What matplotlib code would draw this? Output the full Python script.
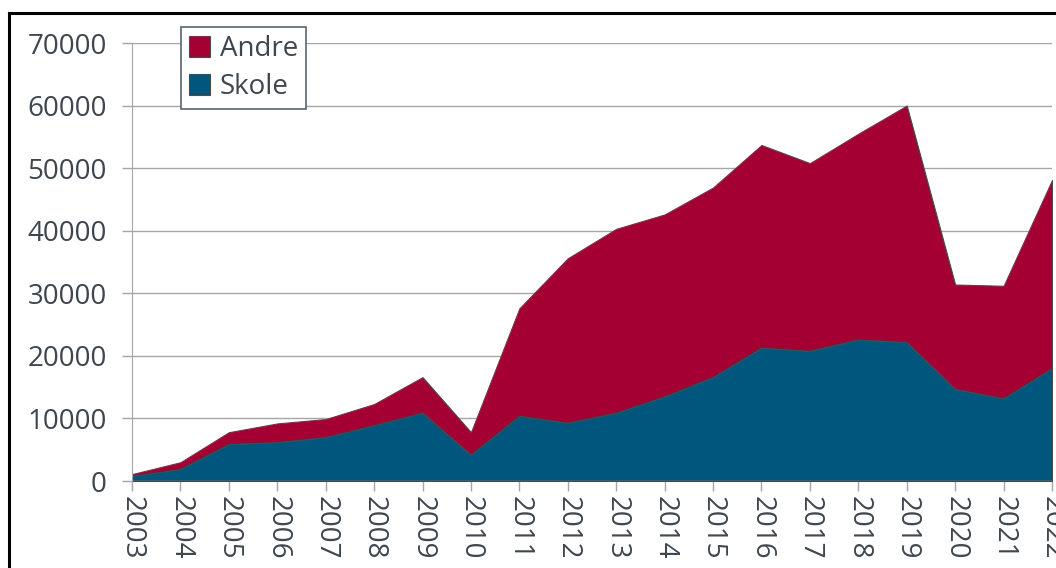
import matplotlib
matplotlib.use("Agg")
from matplotlib import pyplot
from matplotlib.lines import Line2D

years = list(range(2003, 2023))
skole = [800, 1900, 5900, 6200, 7000, 8900, 10900, 4200, 10400, 9300,
         10900, 13500, 16600, 21300, 20800, 22600, 22200, 14700, 13200, 18000]
andre = [300, 1100, 1900, 3000, 2900, 3400, 5700, 3600, 17200, 26300,
         29400, 29100, 30300, 32400, 30000, 32900, 37800, 16700, 18000, 30100]
yticks = [0, 10000, 20000, 30000, 40000, 50000, 60000, 70000]

blue = '#00567c'
red = '#a50034'
textcol = '#3e4650'
gridcol = '#a6a6a6'

pyplot.rcParams['font.family'] = ['Open Sans', 'DejaVu Sans']

fig = pyplot.figure(figsize=(10.56, 5.68), dpi=100)
ax = fig.add_axes([132/1056, 1-481/568, (1052-132)/1056, (481-43)/568])

polys = ax.stackplot(years, skole, andre, colors=[blue, red],
                     edgecolor='#4a4a4a', linewidth=0.8, zorder=2)

ax.set_xlim(2003, 2022)
ax.set_ylim(0, 70000)
ax.set_yticks(yticks)
ax.set_yticklabels([str(v) for v in yticks])
ax.set_xticks(years)
ax.set_xticklabels([str(y) for y in years], rotation=270, va='top', ha='center')

ax.grid(axis='y', color=gridcol, linewidth=1, zorder=0)
for s in ['top', 'right', 'bottom']:
    ax.spines[s].set_visible(False)
ax.spines['left'].set_color(gridcol)
ax.spines['left'].set_zorder(3)
ax.tick_params(axis='both', colors=gridcol, labelcolor=textcol, labelsize=20,
               length=7, width=1)
ax.tick_params(axis='y', pad=11)
ax.tick_params(axis='x', pad=4)
ax.set_axisbelow(True)

# bottom axis line drawn on top of the areas
ax.axhline(0, color=gridcol, linewidth=1, zorder=3)

leg = fig.legend([polys[1], polys[0]], ['Andre', 'Skole'],
                 loc='upper left', bbox_to_anchor=(181/1056, 1-27/568),
                 fancybox=False, edgecolor='#5a6470', framealpha=1,
                 fontsize=20, handlelength=0.75, handleheight=0.75,
                 handletextpad=0.35, borderpad=0.3, labelspacing=0.35,
                 borderaxespad=0, labelcolor=textcol)
leg.get_frame().set_linewidth(1.2)
for h in leg.legend_handles:
    h.set_edgecolor('#4a4a4a')

# outer frame of the cropped picture
fig.add_artist(Line2D([9/1056, 1.0], [1-13/568, 1-13/568], color='black',
                      linewidth=2.2, transform=fig.transFigure))
fig.add_artist(Line2D([9/1056, 9/1056], [0, 1-13/568], color='black',
                      linewidth=2.2, transform=fig.transFigure))

fig.savefig('out.png', dpi=100)
